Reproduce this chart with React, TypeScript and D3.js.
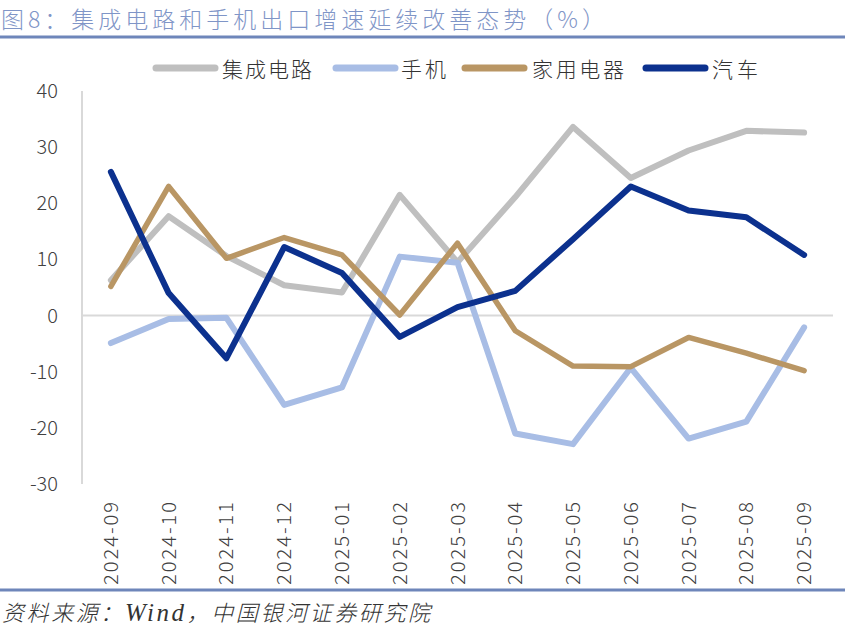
import React from 'react';
import * as d3 from 'd3';

const months = [
  '2024-09', '2024-10', '2024-11', '2024-12', '2025-01', '2025-02', '2025-03',
  '2025-04', '2025-05', '2025-06', '2025-07', '2025-08', '2025-09',
];

const icValues = [6.3, 17.7, 10.6, 5.4, 4.1, 21.5, 9.5, 21.1, 33.6, 24.5, 29.4, 32.9, 32.6];
const phoneValues = [-4.9, -0.6, -0.4, -15.9, -12.8, 10.5, 9.4, -21.0, -22.9, -9.3, -21.9, -18.9, -2.1];
const applianceValues = [5.2, 23.0, 10.2, 13.9, 10.8, 0.1, 12.9, -2.7, -9.0, -9.1, -3.9, -6.7, -9.8];
const autoValues = [25.6, 4.0, -7.6, 12.2, 7.6, -3.8, 1.5, 4.4, 13.6, 23.0, 18.7, 17.5, 10.8];

const seriesNames = ['集成电路', '手机', '家用电器', '汽车'];
const seriesColors = ['#BFBFBF', '#A8BDE5', '#B99664', '#0C318E'];
const yTicks = [40, 30, 20, 10, 0, -10, -20, -30];

const W = 861;
const H = 633;
const left = 82;
const right = 833;
const top = 91;
const bottom = 484;

export default function App() {
  const x = d3.scaleBand<string>().domain(months).range([left, right]);
  const y = d3.scaleLinear().domain([-30, 40]).range([bottom, top]);
  const cx = (m: string) => (x(m) ?? 0) + x.bandwidth() / 2;

  const allSeries = [icValues, phoneValues, applianceValues, autoValues];
  const line = d3.line<number>()
    .x((_, i) => cx(months[i]))
    .y((d) => y(d));

  // 图例位置
  const legendItems = [
    { lx: 153, tx: 222, tw: 90 },
    { lx: 333, tx: 401, tw: 45 },
    { lx: 462, tx: 532, tw: 92 },
    { lx: 643, tx: 712, tw: 46 },
  ];

  const cjk = '"Noto Sans CJK SC", sans-serif';

  return (
    <svg
      width={W}
      height={H}
      viewBox={`0 0 ${W} ${H}`}
      style={{ position: 'absolute', left: 0, top: 0, background: '#fff' }}
    >
      <text
        x={1}
        y={28}
        fontFamily={cjk}
        fontSize={23}
        fill="#7F95C7"
        fontWeight={300}
        textLength={604}
        lengthAdjust="spacing"
      >
        图8：集成电路和手机出口增速延续改善态势（%）
      </text>
      <line x1={0} x2={845} y1={37} y2={37} stroke="#6E86BA" strokeWidth={3} />

      {/* legend */}
      {seriesNames.map((name, i) => (
        <g key={name}>
          <line
            x1={legendItems[i].lx + 3}
            x2={legendItems[i].lx + 62}
            y1={68}
            y2={68}
            stroke={seriesColors[i]}
            strokeWidth={7}
            strokeLinecap="round"
          />
          <text
            x={legendItems[i].tx}
            y={77}
            fontFamily={cjk}
            fontSize={21}
            fill="#333"
            fontWeight={300}
            textLength={legendItems[i].tw}
            lengthAdjust="spacing"
          >
            {name}
          </text>
        </g>
      ))}

      {/* axes */}
      <line x1={left} x2={left} y1={top} y2={bottom} stroke="#D9D9D9" strokeWidth={2} />
      <line x1={left} x2={right} y1={y(0)} y2={y(0)} stroke="#D9D9D9" strokeWidth={2} />

      {yTicks.map((t) => (
        <text
          key={t}
          x={58}
          y={y(t) + 7}
          textAnchor="end"
          fontFamily={cjk}
          fontWeight={300}
          fontSize={20}
          fill="#404040"
        >
          {t}
        </text>
      ))}

      {months.map((m) => (
        <text
          key={m}
          transform={`translate(${cx(m) + 7},${502}) rotate(-90)`}
          textAnchor="end"
          fontFamily={cjk}
          fontWeight={300}
          fontSize={20}
          fill="#404040"
          textLength={83}
          lengthAdjust="spacing"
        >
          {m}
        </text>
      ))}

      {/* lines */}
      {allSeries.map((vals, i) => (
        <path
          key={seriesNames[i]}
          d={line(vals) || ''}
          fill="none"
          stroke={seriesColors[i]}
          strokeWidth={i === 2 ? 5.5 : 6}
          strokeLinejoin="round"
          strokeLinecap="round"
        />
      ))}

      <line x1={0} x2={845} y1={590} y2={590} stroke="#6E86BA" strokeWidth={3} />
      <text
        x={2}
        y={621}
        fontFamily={cjk}
        fontSize={22}
        fontStyle="italic"
        fill="#333"
        fontWeight={300}
        textLength={428}
        lengthAdjust="spacing"
      >
        资料来源：<tspan fontFamily='"Liberation Serif", serif' fontSize={25}>Wind</tspan>，中国银河证券研究院
      </text>
    </svg>
  );
}
